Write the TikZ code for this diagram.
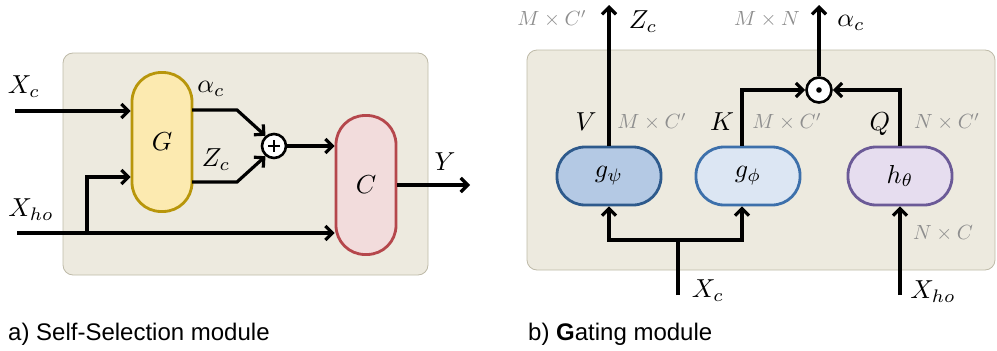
\documentclass[tikz,border=0pt]{standalone}
\usepackage{graphicx}
\usepackage{fontspec}
\newfontfamily\capfont{Liberation Sans}
\usetikzlibrary{arrows.meta}
\newcommand{\mlab}[1]{\scalebox{2.6}{$#1$}}
\newcommand{\mdim}[1]{\scalebox{2.05}{$#1$}}
\definecolor{bgfill}{HTML}{EDEADF}
\definecolor{bgdraw}{HTML}{BEBAA8}
\definecolor{gfill}{HTML}{FCEAB0}
\definecolor{gdraw}{HTML}{B8960B}
\definecolor{cfill}{HTML}{F2DCDC}
\definecolor{cdraw}{HTML}{B5474C}
\definecolor{psifill}{HTML}{B4C9E4}
\definecolor{psidraw}{HTML}{2E5A8C}
\definecolor{phifill}{HTML}{DCE6F3}
\definecolor{phidraw}{HTML}{3D70AB}
\definecolor{thfill}{HTML}{E6DDEF}
\definecolor{thdraw}{HTML}{6B5A97}
\definecolor{dimgray}{HTML}{8E8E8E}
\begin{document}
\begin{tikzpicture}[x=1pt,y=-1pt,
  arr/.style={-{Straight Barb[length=7pt,width=14pt]}, line width=3.2pt},
  ln/.style={line width=3.2pt},
  bgbox/.style={draw=bgdraw, fill=bgfill, line width=0.8pt, rounded corners=10pt},
  vpill/.style={draw, line width=2.8pt, rounded corners=29pt, minimum width=60pt, minimum height=139pt, inner sep=0pt},
  hpill/.style={draw, line width=2.8pt, rounded corners=28pt, minimum width=104pt, minimum height=58pt, inner sep=0pt},
  opcirc/.style={draw, circle, line width=2.6pt, minimum size=24pt, inner sep=0pt},
  lab/.style={inner sep=0pt},
  dim/.style={text=dimgray, inner sep=0pt},
  captext/.style={font=\capfont\fontsize{24}{28}\selectfont, anchor=base west, inner sep=0pt}]
\useasboundingbox (0,0) rectangle (997,351);

% ---------- left panel ----------
\draw[bgbox] (63,53) rectangle (428,275);
\node[vpill, fill=gfill, draw=gdraw] (G) at (162,142) {\mlab{G}};
\node[vpill, fill=cfill, draw=cdraw] (C) at (366,185) {\mlab{C}};
\node[opcirc, fill=white] (plus) at (274,146) {};
\draw[line width=1.8pt] ([xshift=-6pt]plus.center) -- ([xshift=6pt]plus.center);
\draw[line width=1.8pt] ([yshift=-6pt]plus.center) -- ([yshift=6pt]plus.center);

\coordinate (xcin) at (15,111);
\coordinate (xhoin) at (17,233);
\coordinate (br) at (87,233);
\coordinate (brtop) at (87,177);
\coordinate (ao) at (192,110);
\coordinate (ak) at (237,110);
\coordinate (zo) at (192,182);
\coordinate (zk) at (237,182);
\coordinate (yout) at (470,185);

\draw[arr] (xcin) -- (xcin -| G.west);
\draw[arr] (xhoin) -- (xhoin -| C.west);
\draw[arr] (br) -- (brtop) -- (brtop -| G.west);
\draw[arr] (ao) -- (ak) -- (plus.130);
\draw[arr] (zo) -- (zk) -- (plus.230);
\draw[arr] (plus.east) -- (plus.east -| C.west);
\draw[arr] (C.east) -- (yout);

\node[lab] (lxc) at (24,87) {\mlab{X_c}};
\node[lab] (lalpha) at (211,89) {\mlab{\alpha_c}};
\node[lab] (lzc) at (216,160) {\mlab{Z_c}};
\node[lab] (lxho) at (31,210) {\mlab{X_{ho}}};
\node[lab] (ly) at (445,162) {\mlab{Y}};

\node[captext] (capa) at (8,340) {a) Self-Selection module};

% ---------- right panel ----------
\draw[bgbox] (527,50) rectangle (995,270);
\node[hpill, fill=psifill, draw=psidraw] (gpsi) at (609,176) {\mlab{g_\psi}};
\node[hpill, fill=phifill, draw=phidraw] (gphi) at (748,176) {\mlab{g_\phi}};
\node[hpill, fill=thfill, draw=thdraw] (hth) at (900,176) {\mlab{h_\theta}};
\node[opcirc, fill=white, minimum size=25pt] (odot) at (819,90) {};
\fill (odot.center) circle (2.8pt);

\coordinate (top) at (0,5);
\coordinate (kfoot) at ([xshift=-6pt]gphi.north);
\coordinate (kbot) at ([xshift=-6pt]gphi.south);
\coordinate (xcb) at (678,295);
\coordinate (xcj) at (678,240);
\coordinate (xhob) at (900,295);

\draw[arr] (gpsi.north) -- (gpsi.north |- top);
\draw[arr] (odot.north) -- (odot.north |- top);
\draw[arr] (kfoot) |- (odot.west);
\draw[arr] (hth.north) |- (odot.east);
\draw[ln] (xcb) -- (xcj);
\draw[arr] (xcj) -| (gpsi.south);
\draw[arr] (xcj) -| (kbot);
\draw[arr] (xhob) -- (hth.south);

\node[dim] (d1) at (552,19) {\mdim{M\times C'}};
\node[lab] (lzc2) at (643,22) {\mlab{Z_c}};
\node[dim] (d2) at (767,19) {\mdim{M\times N}};
\node[lab] (lal2) at (851,23) {\mlab{\alpha_c}};
\node[lab] (lv) at (586,122) {\mlab{V}};
\node[dim] (d3) at (652,122) {\mdim{M\times C'}};
\node[lab] (lk) at (722,122) {\mlab{K}};
\node[dim] (d4) at (787,122) {\mdim{M\times C'}};
\node[lab] (lq) at (880,124) {\mlab{Q}};
\node[dim] (d5) at (947,122) {\mdim{N\times C'}};
\node[dim] (d6) at (943,233) {\mdim{N\times C}};
\node[lab] (lxc2) at (708,291) {\mlab{X_c}};
\node[lab] (lxho2) at (933,292) {\mlab{X_{ho}}};

\node[captext] (capb) at (528,340) {b) \textbf{G}ating module};
\end{tikzpicture}
\end{document}
